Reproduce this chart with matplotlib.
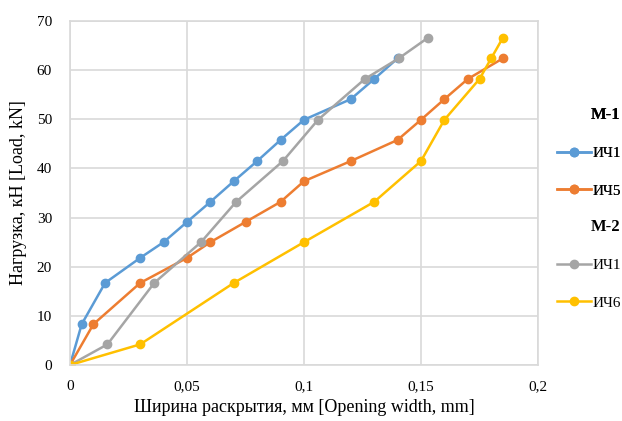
import matplotlib.pyplot as plt
from matplotlib.lines import Line2D
from matplotlib.ticker import FuncFormatter

plt.rcParams['font.family'] = ['Liberation Serif', 'DejaVu Serif']

# M-1
x_m1_ich1 = [0, 0.005, 0.015, 0.03, 0.04, 0.05, 0.06, 0.07, 0.08, 0.09, 0.10, 0.12, 0.13, 0.14]
y_m1_ich1 = [0, 8.3, 16.7, 21.8, 25.0, 29.1, 33.2, 37.4, 41.5, 45.8, 49.9, 54.1, 58.2, 62.4]
x_m1_ich5 = [0, 0.01, 0.03, 0.05, 0.06, 0.075, 0.09, 0.10, 0.12, 0.14, 0.15, 0.16, 0.17, 0.185]
y_m1_ich5 = [0, 8.3, 16.7, 21.8, 25.0, 29.1, 33.2, 37.4, 41.5, 45.8, 49.9, 54.1, 58.2, 62.4]
# M-2
x_m2_ich1 = [0, 0.016, 0.036, 0.056, 0.071, 0.091, 0.106, 0.126, 0.1405, 0.153]
y_m2_ich1 = [0, 4.2, 16.7, 25.0, 33.2, 41.5, 49.9, 58.2, 62.4, 66.6]
x_m2_ich6 = [0, 0.03, 0.07, 0.10, 0.13, 0.15, 0.16, 0.175, 0.18, 0.185]
y_m2_ich6 = [0, 4.2, 16.7, 25.0, 33.2, 41.5, 49.9, 58.2, 62.4, 66.6]

c_blue = '#5b9bd5'
c_orange = '#ed7d31'
c_gray = '#a5a5a5'
c_yellow = '#ffc000'

fig = plt.figure(figsize=(6.22, 4.21), dpi=100)
ax = fig.add_axes([70 / 622, 1 - 365 / 421, 468 / 622, 344 / 421])

style = dict(marker='o', markersize=6, linewidth=1.8)
ax.plot(x_m1_ich1, y_m1_ich1, color=c_blue, **style)
ax.plot(x_m1_ich5, y_m1_ich5, color=c_orange, **style)
ax.plot(x_m2_ich1, y_m2_ich1, color=c_gray, **style)
ax.plot(x_m2_ich6, y_m2_ich6, color=c_yellow, **style)

ax.set_xlim(0, 0.2)
ax.set_ylim(0, 70)
ax.set_xticks([0, 0.05, 0.1, 0.15, 0.2])
ax.set_yticks(range(0, 71, 10))
ax.xaxis.set_major_formatter(FuncFormatter(lambda v, p: ('%g' % round(v, 3)).replace('.', ',')))
ax.grid(True, color='#d9d9d9', linewidth=1.2)
ax.set_axisbelow(True)
for s in ax.spines.values():
    s.set_color('#d9d9d9')
    s.set_linewidth(1.2)
ax.tick_params(length=0, labelsize=11)
ax.tick_params(axis='x', pad=11)
ax.tick_params(axis='y', pad=13)
ax.set_xlabel('Ширина раскрытия, мм [Opening width, mm]', fontsize=13, labelpad=4)
ax.set_ylabel('Нагрузка, кН [Load, kN]', fontsize=13, labelpad=7)

def handle(c):
    return Line2D([], [], color=c, marker='o', markersize=6, linewidth=1.8)

leg_kw = dict(loc='upper left', frameon=False, fontsize=11, labelspacing=1.55,
              handlelength=2.2, handletextpad=0.1, borderpad=0, borderaxespad=0,
              title_fontproperties={'weight': 'bold', 'size': 12})
leg1 = fig.legend([handle(c_blue), handle(c_orange)], ['ИЧ1', 'ИЧ5'],
                  title='М-1', bbox_to_anchor=(557 / 622, 1 - 107 / 421), **leg_kw)
leg1._legend_box.align = 'right'
fig.add_artist(leg1)
leg2 = fig.legend([handle(c_gray), handle(c_yellow)], ['ИЧ1', 'ИЧ6'],
                  title='М-2', bbox_to_anchor=(557 / 622, 1 - 219 / 421), **leg_kw)
leg2._legend_box.align = 'right'

fig.savefig('out.png', dpi=100)
